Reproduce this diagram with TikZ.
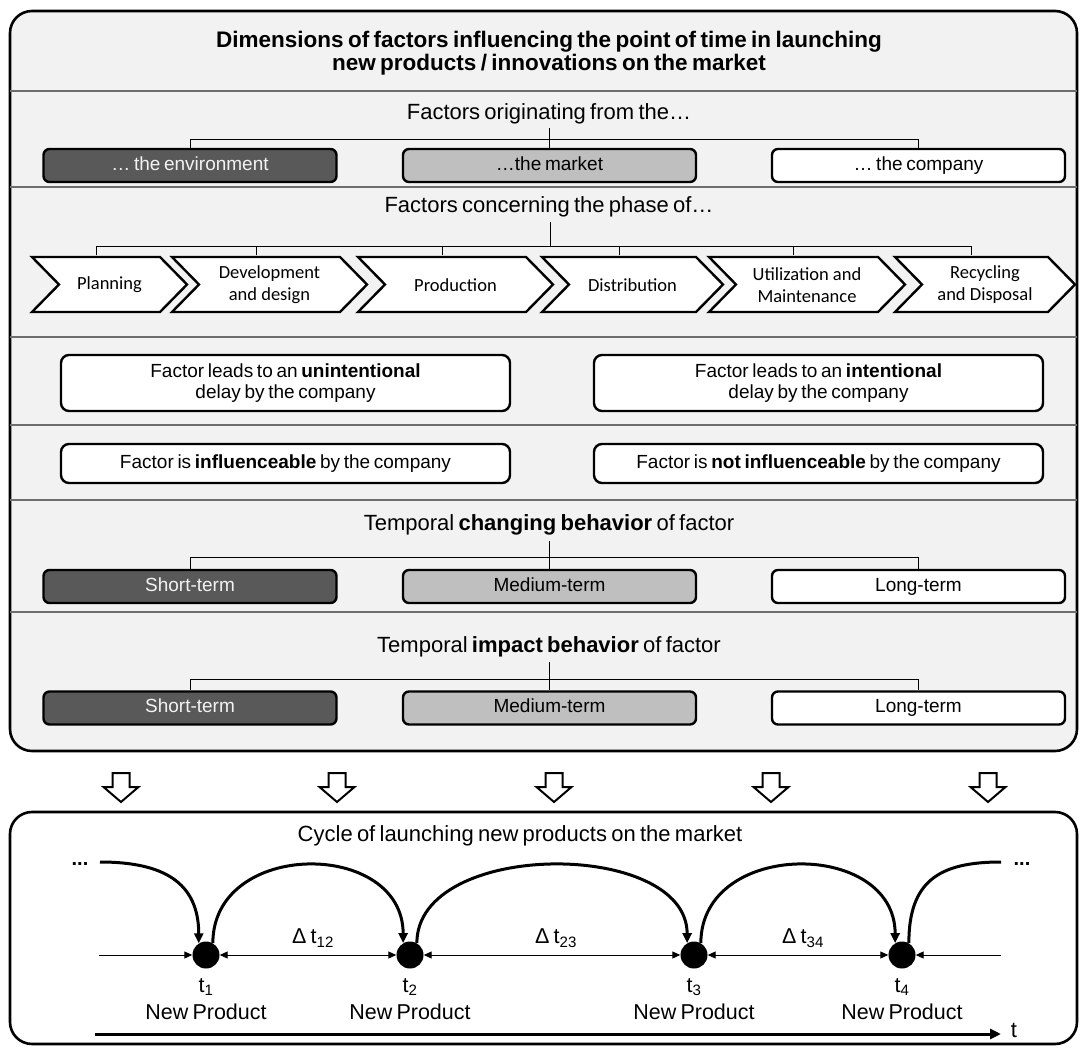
\documentclass[tikz,border=0pt]{standalone}
\usepackage{fontspec}
\setmainfont{Liberation Sans}[WordSpace=0.7]
\newfontfamily\chevfont{Carlito}
\usetikzlibrary{arrows.meta}
\definecolor{panelbg}{HTML}{F2F2F2}
\definecolor{darkfill}{HTML}{595959}
\definecolor{midfill}{HTML}{BFBFBF}
\definecolor{rulegray}{HTML}{6E6E6E}
\definecolor{lighttext}{HTML}{F2F2F2}
\newcommand\fsz[2]{\fontsize{#1}{#2}\selectfont}
\tikzset{ttip/.tip={Triangle[length=8pt,width=7pt]}}

\begin{document}
\begin{tikzpicture}[x=1pt,y=-1pt,
  panel/.style={draw=black, line width=2.6pt, rounded corners=22pt},
  rule/.style={draw=rulegray, line width=1.3pt},
  tree/.style={draw=black, line width=0.9pt},
  heading/.style={font=\fsz{22}{26}, inner sep=0pt},
  catbox/.style={draw=black, line width=2.4pt, rounded corners=6pt,
    minimum width=293pt, minimum height=33pt, inner sep=0pt,
    text height=13.5pt, text depth=4pt, font=\fsz{19}{22}},
  darkbox/.style={catbox, fill=darkfill, text=lighttext},
  midbox/.style={catbox, fill=midfill},
  whitebox/.style={catbox, fill=white},
  widebox/.style={draw=black, line width=2.4pt, rounded corners=8pt, fill=white,
    minimum width=449pt, inner sep=0pt, align=center, font=\fsz{19}{20.5}},
  chev/.style={draw=black, line width=2.4pt, fill=white, line join=miter},
  chevtext/.style={font=\chevfont\fsz{18.5}{22}, align=center, inner sep=0pt},
  blockarrow/.style={draw=black, line width=2pt, fill=white, line join=miter},
  dot/.style={circle, fill=black, minimum size=27pt, inner sep=0pt},
  arc/.style={draw=black, line width=3pt},
  arctip/.style={arc, -{Triangle[length=10pt,width=9pt]}},
  tline/.style={draw=black, line width=1pt},
  axis/.style={draw=black, line width=3pt, -{Triangle[length=11pt,width=10pt]}},
  label/.style={font=\fsz{21.5}{20}, inner sep=0pt}
]
\useasboundingbox (0,0) rectangle (1080,1048);

% ---------- upper panel ----------
\draw[panel, fill=panelbg] (10,11) rectangle (1077,751);
\node[font=\bfseries\fsz{22.5}{23}, align=center, inner sep=0pt] (title) at (549,53)
  {Dimensions of factors influencing the point of time in launching\\
   new products / innovations on the market};
\foreach \y in {91,187,337,425,500,612}
  \draw[rule] (10,\y) -- (1077,\y);

% origin of factors
\node[heading] (h1) at (549,114) {Factors originating from the…};
\node[darkbox] (env)  at (190,165.5)   {… the environment};
\node[midbox]  (mkt)  at (549.5,165.5) {…the market};
\node[whitebox](comp) at (918.5,165.5) {… the company};
\draw[tree] (env.north) -- ++(0,-8.5) -| (comp.north);
\draw[tree] (h1.south -| mkt.north) ++(0,4) -- (mkt.north);

% life-cycle phases
\node[heading] (h2) at (549,207) {Factors concerning the phase of…};
\foreach \l/\t/\n/\txt in {32/187/ph1/Planning,
                           172/367/ph2/{Development\\and design},
                           358/553/ph3/Production,
                           542/723/ph4/Distribution,
                           709/905/ph5/{Utilization and\\Maintenance},
                           895/1075/ph6/{Recycling\\and Disposal}} {
  \draw[chev] (\l,257) -- ({\t-27},257) -- (\t,284.5) -- ({\t-27},312)
    -- (\l,312) -- ({\l+27},284.5) -- cycle;
  \node[chevtext] (\n) at ({(\l+\t)/2},285) {\txt};
  \coordinate (\n-t) at ({(\l+\t-27)/2},255.5);
}
\draw[tree] (ph1-t) -- ++(0,-9.5) -| (ph6-t);
\foreach \n in {ph2,ph3,ph4,ph5}
  \draw[tree] (\n-t) -- ++(0,-9.5);
\coordinate (h2stem) at (550,246);
\draw[tree] (h2.south -| h2stem) ++(0,5) -- (h2stem);

% delay type
\node[widebox, minimum height=56pt] (unint) at (285.5,383)
  {Factor leads to an \textbf{unintentional}\\delay by the company};
\node[widebox, minimum height=56pt] (intent) at (818.5,383)
  {Factor leads to an \textbf{intentional}\\delay by the company};

% influenceability
\node[widebox, minimum height=39pt] (infl) at (285.5,463.5)
  {Factor is \textbf{influenceable} by the company};
\node[widebox, minimum height=39pt] (notinfl) at (818.5,463.5)
  {Factor is \textbf{not influenceable} by the company};

% changing behaviour
\node[heading] (h5) at (549,525) {Temporal \textbf{changing behavior} of factor};
\node[darkbox] (cs) at (190,586.5)   {Short-term};
\node[midbox]  (cm) at (549.5,586.5) {Medium-term};
\node[whitebox](cl) at (918.5,586.5) {Long-term};
\draw[tree] (cs.north) -- ++(0,-11) -| (cl.north);
\draw[tree] (h5.south -| cm.north) ++(0,5) -- (cm.north);

% impact behaviour
\node[heading] (h6) at (549,647) {Temporal \textbf{impact behavior} of factor};
\node[darkbox] (is) at (190,708)   {Short-term};
\node[midbox]  (im) at (549.5,708) {Medium-term};
\node[whitebox](il) at (918.5,708) {Long-term};
\draw[tree] (is.north) -- ++(0,-11) -| (il.north);
\draw[tree] (h6.south -| im.north) ++(0,5) -- (im.north);

% ---------- block arrows ----------
\foreach \x in {121,337,554,771,988}
  \draw[blockarrow] ({\x-8.5},773) -- ({\x+8.5},773) -- ({\x+8.5},787)
    -- ({\x+17.5},787) -- (\x,802) -- ({\x-17.5},787) -- ({\x-8.5},787) -- cycle;

% ---------- lower panel: launch cycle ----------
\draw[panel, fill=white] (10,812) rectangle (1077,1044);
\node[font=\fsz{22}{26}, inner sep=0pt] (cyc) at (520,836)
  {Cycle of launching new products on the market};

\node[dot] (d1) at (206,955) {};
\node[dot] (d2) at (410,955) {};
\node[dot] (d3) at (694,955) {};
\node[dot] (d4) at (902,955) {};

\coordinate (tl-l) at (99,955);
\coordinate (tl-r) at (1001,955);
\draw[tline, -{ttip}] (tl-l) -- (d1);
\draw[tline, {ttip}-{ttip}] (d1) -- (d2);
\draw[tline, {ttip}-{ttip}] (d2) -- (d3);
\draw[tline, {ttip}-{ttip}] (d3) -- (d4);
\draw[tline, -{ttip}] (tl-r) -- (d4);

\node[font=\bfseries\fsz{20}{20}, inner sep=0pt] (ml) at (80,864) {...};
\node[font=\bfseries\fsz{20}{20}, inner sep=0pt] (mr) at (1022,864) {...};
\coordinate (c-l) at (100,862);
\coordinate (c-r) at (1001,862);
\draw[arctip] (c-l) .. controls +(62,0) and +(0,-62) .. (d1.122);
\draw[arctip] (d1.60) .. controls +(0,-104) and +(0,-104) .. (d2.120);
\draw[arctip] (d2.60) .. controls +(0,-104) and +(0,-104) .. (d3.120);
\draw[arctip] (d3.60) .. controls +(0,-104) and +(0,-104) .. (d4.120);
\draw[arc] (d4.60) .. controls +(0,-62) and +(-62,0) .. (c-r);

\node[label] (dt12) at (313,938) {Δ t\textsubscript{12}};
\node[label] (dt23) at (556,938) {Δ t\textsubscript{23}};
\node[label] (dt34) at (803,938) {Δ t\textsubscript{34}};

\foreach \i/\x in {1/206,2/410,3/694,4/902} {
  \node[label] (t\i) at (\x,987) {t\textsubscript{\i}};
  \node[label] (np\i) at (\x,1012) {New Product};
}

\coordinate (ax-l) at (95,1034);
\coordinate (ax-r) at (1001,1034);
\draw[axis] (ax-l) -- (ax-r);
\node[font=\fsz{22}{26}, inner sep=0pt] (tlab) at (1014,1030) {t};
\end{tikzpicture}
\end{document}
